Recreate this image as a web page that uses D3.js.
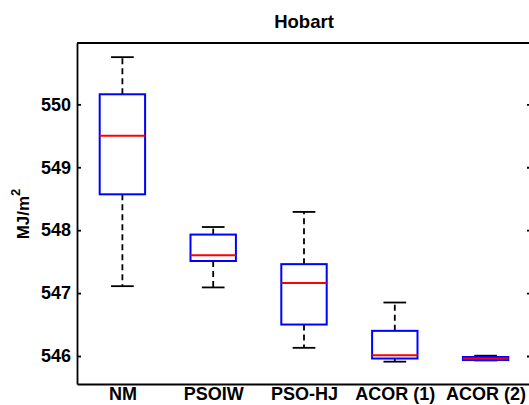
<!DOCTYPE html>
<html>
<head>
<meta charset="utf-8">
<script src="https://cdn.jsdelivr.net/npm/d3@7"></script>
<style>
  body { margin: 0; background: #fff; }
  svg { display: block; font-family: "Liberation Sans", Arial, sans-serif; font-weight: bold; }
  .axis text { font-size: 18px; font-weight: bold; fill: #000; }
  .axis path, .axis line { stroke: #000; stroke-width: 1.8; }
</style>
</head>
<body>
<svg id="chart"></svg>
<script>
const WIDTH = 529;
const HEIGHT = 405;
const MARGIN = { top: 43, right: -2, bottom: 21, left: 77 };

// box plot stats
const categories = ['NM', 'PSOIW', 'PSO-HJ', 'ACOR (1)', 'ACOR (2)'];
const whiskerLow = [547.11, 547.09, 546.13, 545.91, 545.93];
const q1 = [548.57, 547.51, 546.50, 545.96, 545.936];
const median = [549.50, 547.60, 547.16, 546.01, 545.959];
const q3 = [550.16, 547.93, 547.46, 546.40, 545.984];
const whiskerHigh = [550.75, 548.05, 548.29, 546.85, 546.005];
const yTicks = [546, 547, 548, 549, 550];

const width = WIDTH - MARGIN.left - MARGIN.right;
const height = HEIGHT - MARGIN.top - MARGIN.bottom;

const $svg = d3.select('#chart').attr('width', WIDTH).attr('height', HEIGHT);
const $g = $svg.append('g').attr('transform', `translate(${MARGIN.left},${MARGIN.top})`);

const scaleX = d3.scaleLinear().domain([0.5, categories.length + 0.5]).range([0, width]);
const scaleY = d3.scaleLinear().domain([545.555, 550.975]).range([height, 0]);

const data = categories.map((c, i) => ({
  name: c, pos: i + 1,
  lo: whiskerLow[i], q1: q1[i], med: median[i], q3: q3[i], hi: whiskerHigh[i]
}));

const BOX_W = 0.5;
const CAP_W = 0.25;

//AXES
$g.append('g')
  .attr('class', 'axis axis--y')
  .call(d3.axisLeft(scaleY).tickValues(yTicks).tickSize(-4).tickSizeOuter(0).tickPadding(6).tickFormat(d3.format('d')));

$g.append('g')
  .attr('class', 'axis axis--right')
  .attr('transform', `translate(${width},0)`)
  .call(d3.axisRight(scaleY).tickValues(yTicks).tickSize(-4).tickSizeOuter(0).tickFormat(''));

$g.append('g')
  .attr('class', 'axis axis--x')
  .attr('transform', `translate(0,${height})`)
  .call(d3.axisBottom(scaleX).tickValues(data.map(d => d.pos)).tickSize(0).tickSizeOuter(0).tickPadding(3)
    .tickFormat((d, i) => categories[i]));

$g.append('line')
  .attr('x1', 0).attr('x2', width).attr('y1', 0).attr('y2', 0)
  .attr('stroke', '#000').attr('stroke-width', 1.8);

//TITLE
$svg.append('text')
  .text('Hobart')
  .attr('x', MARGIN.left + width / 2)
  .attr('y', 28)
  .attr('text-anchor', 'middle')
  .style('font-size', '18.5px');

// y label with superscript
const $ylab = $svg.append('text')
  .attr('transform', 'translate(28.5,214) rotate(-90)')
  .attr('text-anchor', 'middle')
  .style('font-size', '17px');
$ylab.append('tspan').text('MJ/m');
$ylab.append('tspan').text('2').attr('dy', -9).style('font-size', '13px');

//BOXES
const $box = $g.selectAll('.box').data(data).enter().append('g').attr('class', 'box');

// whiskers
$box.append('line')
  .attr('x1', d => scaleX(d.pos)).attr('x2', d => scaleX(d.pos))
  .attr('y1', d => scaleY(d.q3)).attr('y2', d => scaleY(d.hi))
  .attr('stroke', '#000').attr('stroke-width', 1.8).attr('stroke-dasharray', '6,4');
$box.append('line')
  .attr('x1', d => scaleX(d.pos)).attr('x2', d => scaleX(d.pos))
  .attr('y1', d => scaleY(d.q1)).attr('y2', d => scaleY(d.lo))
  .attr('stroke', '#000').attr('stroke-width', 1.8).attr('stroke-dasharray', '6,4');

// caps
['hi', 'lo'].forEach(k => {
  $box.append('line')
    .attr('x1', d => scaleX(d.pos - CAP_W / 2)).attr('x2', d => scaleX(d.pos + CAP_W / 2))
    .attr('y1', d => scaleY(d[k])).attr('y2', d => scaleY(d[k]))
    .attr('stroke', '#000').attr('stroke-width', 1.8);
});

$box.append('rect')
  .attr('x', d => scaleX(d.pos - BOX_W / 2))
  .attr('width', d => scaleX(d.pos + BOX_W / 2) - scaleX(d.pos - BOX_W / 2))
  .attr('y', d => scaleY(d.q3))
  .attr('height', d => scaleY(d.q1) - scaleY(d.q3))
  .attr('fill', 'none').attr('stroke', '#0000ff').attr('stroke-width', 2);

$box.append('line')
  .attr('x1', d => scaleX(d.pos - BOX_W / 2)).attr('x2', d => scaleX(d.pos + BOX_W / 2))
  .attr('y1', d => scaleY(d.med)).attr('y2', d => scaleY(d.med))
  .attr('stroke', '#ff0000').attr('stroke-width', 2);
</script>
</body>
</html>
